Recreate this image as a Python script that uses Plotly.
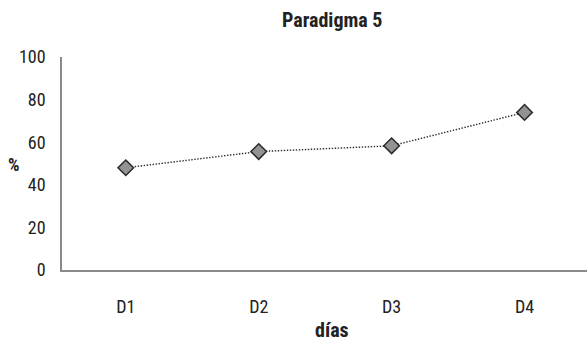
import plotly.graph_objects as go

categories = ["D1", "D2", "D3", "D4"]
values = [48, 55.6, 58.3, 74]
y_ticks = [0, 20, 40, 60, 80, 100]

FONT = "Liberation Sans Narrow, Roboto Condensed, Arial Narrow, Liberation Sans, sans-serif"

fig = go.Figure()
fig.add_trace(go.Scatter(
    x=categories, y=values, mode="lines+markers",
    line=dict(color="#2a2a2a", width=1.4, dash="1.4px,1.6px"),
    marker=dict(symbol="diamond", size=12, color="#939393",
                line=dict(color="#2a2a2a", width=1.5)),
    showlegend=False,
))

W = 525.0
H = 213.5
fig.update_layout(
    width=587, height=343,
    margin=dict(l=62, r=0, t=57, b=72.5, autoexpand=False),
    paper_bgcolor="white", plot_bgcolor="white",
    font=dict(family=FONT, size=18, color="#222222"),
    hovermode=False,
    xaxis=dict(type="category", range=[-0.48, 3.47], showline=True,
               linecolor="#8a8a8a", linewidth=1.5, showgrid=False, zeroline=False,
               ticks="", ticklabelstandoff=20, automargin=False),
    yaxis=dict(range=[0, 100], tickvals=y_ticks, showline=True,
               linecolor="#8a8a8a", linewidth=1.5, showgrid=False, zeroline=False,
               ticks="", ticklabelstandoff=11, automargin=False),
    annotations=[
        dict(text="<b>Paradigma 5</b>", x=(332 - 62) / W, xref="paper",
             y=(57 - 20) / H + 1, yref="paper", xanchor="center", yanchor="middle",
             showarrow=False, font=dict(family=FONT, size=20)),
        dict(text="<b>días</b>", x=(332 - 62) / W, xref="paper",
             y=-(331 - 270.5) / H, yref="paper", xanchor="center", yanchor="middle",
             showarrow=False, font=dict(family=FONT, size=20)),
        dict(text="<b>%</b>", x=(14 - 62) / W, xref="paper",
             y=(270.5 - 165) / H, yref="paper", xanchor="center", yanchor="middle",
             showarrow=False, font=dict(family=FONT, size=18)),
    ],
)

fig.write_html("out.html", config={"displayModeBar": False},
               post_script="document.body.style.margin='0';document.body.style.overflow='hidden';")
